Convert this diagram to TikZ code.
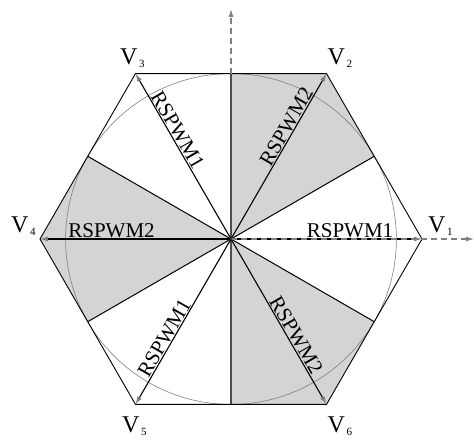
\documentclass[tikz,border=0pt]{standalone}
\usepackage{fontspec}
\setmainfont{Liberation Serif}
\usetikzlibrary{arrows.meta}
\definecolor{sectgray}{RGB}{211,212,214}
\newcommand{\vlab}[1]{V\kern1.5pt\raisebox{-3pt}{\fontsize{11}{11}\selectfont #1}}

\begin{document}
\begin{tikzpicture}[x=1pt,y=1pt,
    vec/.style={line width=1.1pt, -{Latex[length=8pt,width=5pt,color=gray]}},
    axis/.style={gray, line width=1.1pt, dash pattern=on 6pt off 4pt, -{Latex[length=8pt,width=5pt]}},
    pwm/.style={font=\fontsize{21}{21}\selectfont, inner sep=1pt, anchor=south},
    vname/.style={font=\fontsize{24}{24}\selectfont, inner sep=0pt, anchor=base west}]
  \useasboundingbox (-231,-202) rectangle (243,239);
  \coordinate (O) at (0,0);
  \foreach \i in {1,...,6} {
    \coordinate (V\i) at ({(\i-1)*60}:191);
    \coordinate (M\i) at ({(\i-1)*60+30}:165.4);
  }
  % shaded sectors
  \fill[sectgray] (O) -- (M1) -- (V2) -- (M2) -- cycle;
  \fill[sectgray] (O) -- (M3) -- (V4) -- (M4) -- cycle;
  \fill[sectgray] (O) -- (M5) -- (V6) -- (M6) -- cycle;
  \draw[gray, line width=0.6pt] (O) circle (165.4);
  % sector borders
  \foreach \i in {1,3,4,6} \draw[line width=1pt] (O) -- (M\i);
  \foreach \i in {2,5} \draw[black!70, line width=1.1pt] (O) -- (M\i);
  \draw[line width=0.9pt] (V1) -- (V2) -- (V3) -- (V4) -- (V5) -- (V6) -- cycle;
  % axes
  \coordinate (xend) at (243,0);
  \coordinate (yend) at (0,230);
  \draw[axis] (M2) -- (yend);
  % vectors
  \foreach \i in {1,...,6} \draw[vec] (O) -- (V\i);
  \draw[axis] (O) -- (xend);
  \fill[black!80] (O) circle (1.5);
  % labels
  \node[pwm] at (119,0) {RSPWM1};
  \node[pwm, rotate=60] at (60:125) {RSPWM2};
  \node[pwm, rotate=-60] at (120:121) {RSPWM1};
  \node[pwm] at (-119.5,0) {RSPWM2};
  \node[pwm, rotate=60] at (240:119) {RSPWM1};
  \node[pwm, rotate=-60] at (300:116) {RSPWM2};
  \node[vname] at ([shift={(6,6)}]V1) {\vlab{1}};
  \node[vname] at ([shift={(1,8.6)}]V2) {\vlab{2}};
  \node[vname] at ([shift={(-15.5,8.6)}]V3) {\vlab{3}};
  \node[vname] at ([shift={(-29,6)}]V4) {\vlab{4}};
  \node[vname] at ([shift={(-13.5,-27.6)}]V5) {\vlab{5}};
  \node[vname] at ([shift={(1,-27.6)}]V6) {\vlab{6}};
\end{tikzpicture}
\end{document}
